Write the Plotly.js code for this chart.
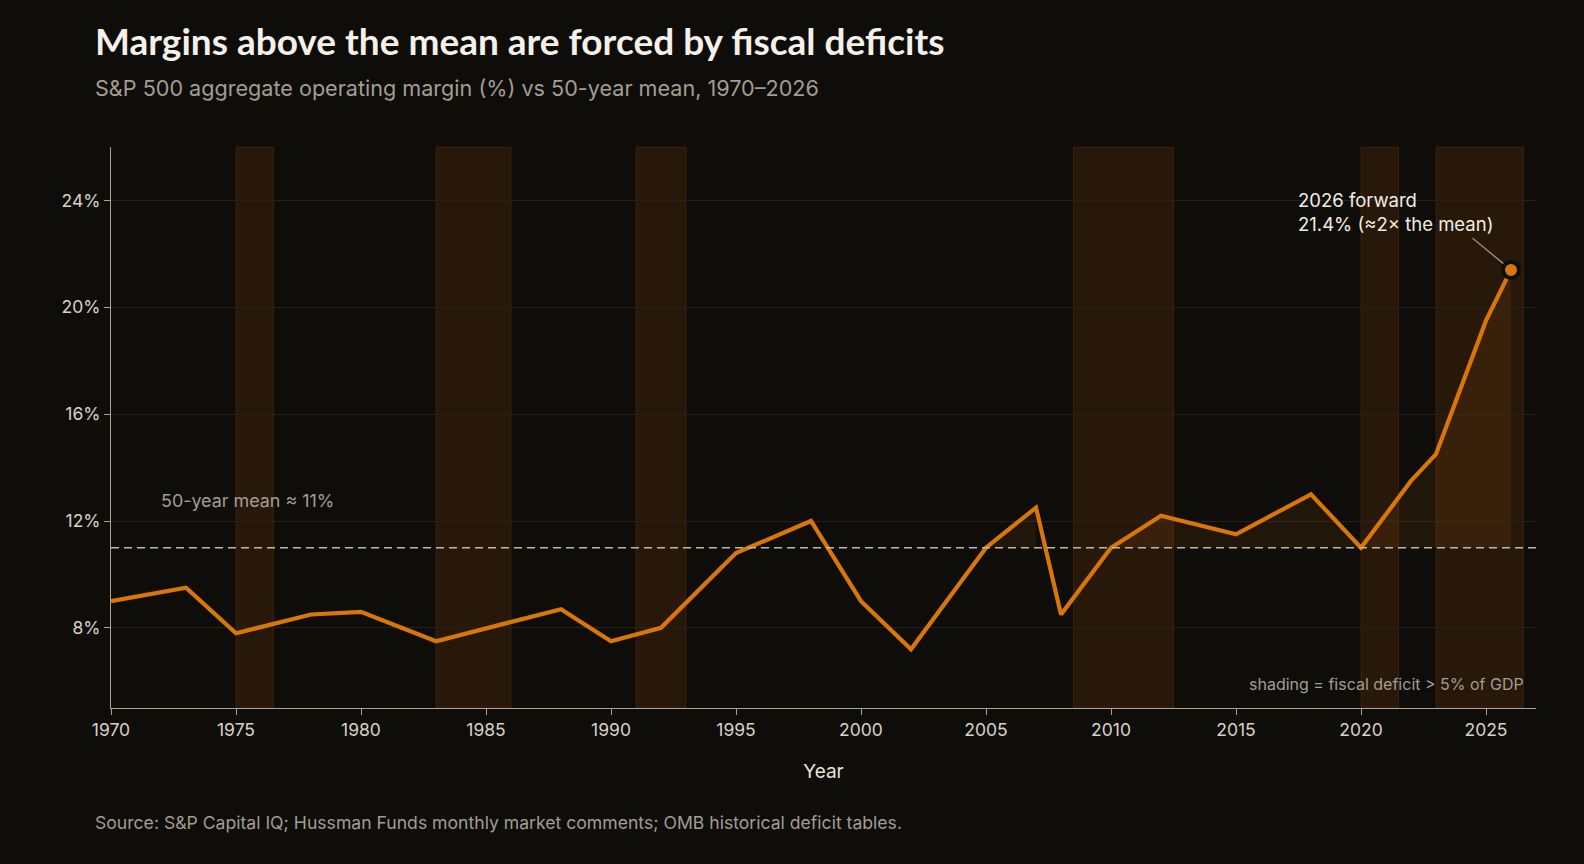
<!DOCTYPE html>
<html>
<head>
<meta charset="utf-8">
<script src="https://cdn.plot.ly/plotly-3.0.1.min.js"></script>
<style>
  html, body { margin: 0; padding: 0; background: #0e0d0a; }
  #chart { width: 1584px; height: 864px; }
</style>
</head>
<body>
<div id="chart"></div>
<script>
// S&P 500 aggregate operating margin (%), selected years
const YEARS = [1970, 1973, 1975, 1978, 1980, 1983, 1988, 1990, 1992, 1995, 1998, 2000, 2002,
               2005, 2007, 2008, 2010, 2012, 2015, 2018, 2020, 2022, 2023, 2025, 2026];
const MARGIN = [9.0, 9.5, 7.8, 8.5, 8.6, 7.5, 8.7, 7.5, 8.0, 10.8, 12.0, 9.0, 7.2,
                11.0, 12.5, 8.5, 11.0, 12.2, 11.5, 13.0, 11.0, 13.5, 14.5, 19.5, 21.4];

// 50-year mean margin (%)
const MEAN = 11;

// Periods with a federal deficit above 5% of GDP
const DEFICIT_START = [1975, 1983, 1991, 2008.5, 2020, 2023];
const DEFICIT_END   = [1976.5, 1986, 1993, 2012.5, 2021.5, 2026.5];

const Y_TICKS = [8, 12, 16, 20, 24];
const X_TICKS = [1970, 1975, 1980, 1985, 1990, 1995, 2000, 2005, 2010, 2015, 2020, 2025];

const ORANGE = '#d97706';
const BG = '#0e0d0a';
const FONT = 'Inter, "DejaVu Sans", sans-serif';

// Runs of consecutive years at or above the mean, shaded down to the mean line
const traces = [];
let run = [];
const flushRun = () => {
  if (run.length > 1) {
    const xs = run.map(i => YEARS[i]);
    traces.push({
      x: xs, y: xs.map(() => MEAN), type: 'scatter', mode: 'lines',
      line: {width: 0}, hoverinfo: 'skip', showlegend: false
    });
    traces.push({
      x: xs, y: run.map(i => MARGIN[i]), type: 'scatter', mode: 'lines',
      line: {width: 0}, fill: 'tonexty', fillcolor: 'rgba(217,119,6,0.09)',
      hoverinfo: 'skip', showlegend: false
    });
  }
  run = [];
};
MARGIN.forEach((v, i) => { if (v >= MEAN) run.push(i); else flushRun(); });
flushRun();

// Operating margin line
traces.push({
  x: YEARS, y: MARGIN, type: 'scatter', mode: 'lines',
  line: {color: ORANGE, width: 4.2, shape: 'linear'},
  showlegend: false, hovertemplate: '%{x}: %{y:.1f}%<extra></extra>'
});

// Forward estimate marker
const last = YEARS.length - 1;
traces.push({
  x: [YEARS[last]], y: [MARGIN[last]], type: 'scatter', mode: 'markers',
  marker: {color: ORANGE, size: 16, line: {color: BG, width: 4}},
  showlegend: false, hoverinfo: 'skip', cliponaxis: false
});

const shapes = DEFICIT_START.map((s, i) => ({
  type: 'rect', xref: 'x', yref: 'paper', x0: s, x1: DEFICIT_END[i], y0: 0, y1: 1,
  fillcolor: 'rgba(214,98,18,0.13)', line: {color: 'rgba(214,98,18,0.17)', width: 1},
  layer: 'below'
}));
shapes.push({
  type: 'line', xref: 'paper', yref: 'y', x0: 0, x1: 1, y0: MEAN, y1: MEAN,
  line: {color: '#bdb6ac', width: 1.5, dash: '8px,5px'}, layer: 'above'
});

const layout = {
  width: 1584, height: 864,
  paper_bgcolor: BG, plot_bgcolor: BG,
  font: {family: FONT, color: '#d8d2c8', size: 17},
  margin: {l: 111, r: 48, t: 147, b: 156},
  showlegend: false,
  xaxis: {
    range: [1970, 2027], tickvals: X_TICKS, ticktext: X_TICKS.map(String),
    showgrid: false, zeroline: false,
    showline: true, linecolor: '#a8a29a', linewidth: 1,
    ticks: 'outside', ticklen: 6, tickcolor: '#a8a29a', tickwidth: 1,
    tickfont: {size: 17.5, color: '#d8d2c8'},
    title: {text: 'Year', font: {size: 19, color: '#e8e2d8'}, standoff: 25}
  },
  yaxis: {
    range: [5, 26], tickvals: Y_TICKS, ticktext: Y_TICKS.map(v => v + '%'),
    showgrid: true, gridcolor: '#25221e', gridwidth: 1, zeroline: false,
    showline: true, linecolor: '#a8a29a', linewidth: 1,
    ticks: 'outside', ticklen: 6, tickcolor: '#a8a29a', tickwidth: 1,
    tickfont: {size: 17.5, color: '#d8d2c8'}
  },
  shapes: shapes,
  annotations: [
    {
      xref: 'paper', yref: 'paper', x: -0.0098, y: 1, xanchor: 'left', yanchor: 'middle',
      xshift: -4, yshift: 147 - 40, showarrow: false,
      text: '<b>Margins above the mean are forced by fiscal deficits</b>',
      font: {family: 'Lato, "Open Sans", sans-serif', size: 37, color: '#f5f1ea'}
    },
    {
      xref: 'paper', yref: 'paper', x: -0.0098, y: 1, xanchor: 'left', yanchor: 'middle',
      xshift: -4, yshift: 147 - 88, showarrow: false,
      text: 'S&P 500 aggregate operating margin (%) vs 50-year mean, 1970\u20132026',
      font: {size: 21.6, color: '#a39d94'}
    },
    {
      xref: 'paper', yref: 'paper', x: -0.0098, y: 0, xanchor: 'left', yanchor: 'middle',
      xshift: -4, yshift: -(822 - 708), showarrow: false,
      text: 'Source: S&P Capital IQ; Hussman Funds monthly market comments; OMB historical deficit tables.',
      font: {size: 17.6, color: '#a39d94'}
    },
    {
      xref: 'x', yref: 'y', x: 1972, y: MEAN, xanchor: 'left', yanchor: 'middle',
      yshift: 47, xshift: -2, showarrow: false,
      text: '50-year mean \u2248 11%',
      font: {size: 17.9, color: '#a39d94'}
    },
    {
      xref: 'paper', yref: 'paper', x: 1, y: 0, xanchor: 'right', yanchor: 'middle',
      xshift: -10, yshift: 24, showarrow: false,
      text: 'shading = fiscal deficit > 5% of GDP',
      font: {size: 16, color: '#a39d94'}
    },
    {
      xref: 'x', yref: 'y', x: YEARS[last], y: MARGIN[last], text: '',
      showarrow: true, arrowhead: 0, arrowwidth: 1.2, arrowcolor: '#a8a29a',
      ax: -40, ay: -33, standoff: 10
    },
    {
      xref: 'x', yref: 'y', x: YEARS[last], y: MARGIN[last], xanchor: 'left', yanchor: 'middle',
      xshift: -215, yshift: 58, showarrow: false, align: 'left',
      text: '2026 forward<br>' + MARGIN[last].toFixed(1) + '% (\u22482\u00d7 the mean)',
      font: {size: 18.5, color: '#f2ede5'}
    }
  ]
};

Plotly.newPlot('chart', traces, layout, {displayModeBar: false, responsive: false});
</script>
</body>
</html>
